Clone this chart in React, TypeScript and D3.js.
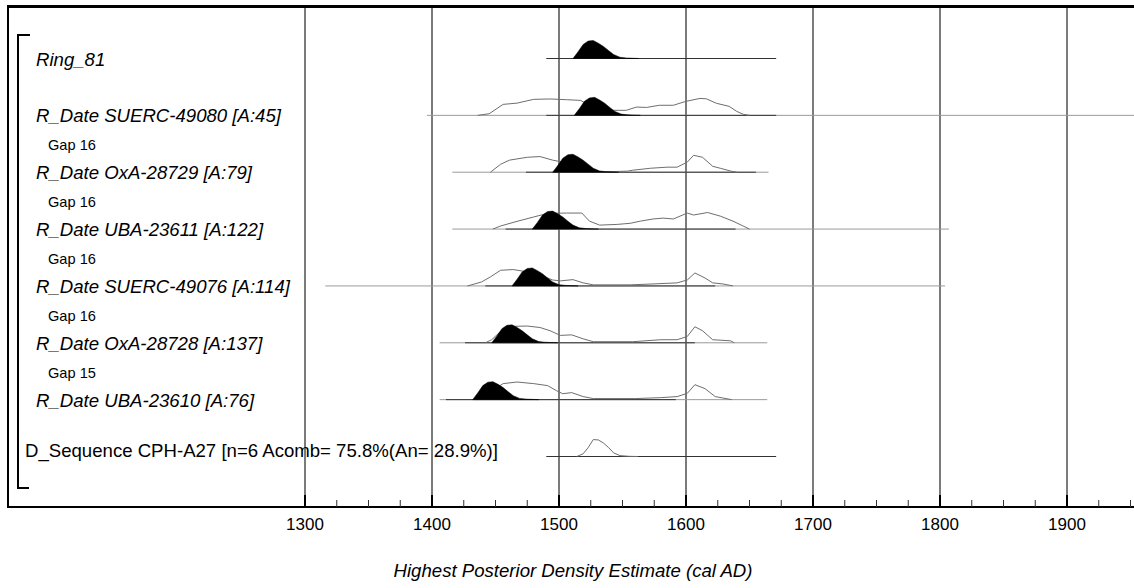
import React from "react";
import * as d3 from "d3";

// ---------- data ----------
const rowLabels = [
  "Ring_81",
  "R_Date SUERC-49080 [A:45]",
  "R_Date OxA-28729 [A:79]",
  "R_Date UBA-23611 [A:122]",
  "R_Date SUERC-49076 [A:114]",
  "R_Date OxA-28728 [A:137]",
  "R_Date UBA-23610 [A:76]",
  "D_Sequence CPH-A27 [n=6 Acomb= 75.8%(An= 28.9%)]",
];
const gapLabels = ["Gap 16", "Gap 16", "Gap 16", "Gap 16", "Gap 15"]; // before rows 2..6
const tickYears = [1300, 1400, 1500, 1600, 1700, 1800, 1900];
const minorTickYears = [
  1325, 1350, 1375, 1425, 1450, 1475, 1525, 1550, 1575, 1625, 1650, 1675,
  1725, 1750, 1775, 1825, 1850, 1875, 1925, 1950,
];
const axisTitle = "Highest Posterior Density Estimate (cal AD)";

// likelihood range (light line), per row; null = none
const likeRanges: ([number, number] | null)[] = [
  null,
  [1396, 1960],
  [1416, 1665],
  [1416, 1807],
  [1316, 1804],
  [1406, 1664],
  [1406, 1664],
  null,
];
// posterior range (dark line)
const postRanges: [number, number][] = [
  [1490, 1671],
  [1490, 1671],
  [1474, 1655],
  [1458, 1639],
  [1442, 1623],
  [1426, 1607],
  [1411, 1592],
  [1490, 1671],
];

const postDens = [0, 37, 78, 97, 100, 85, 67, 44, 22, 7, 3, 1, 0];
const postYearsRing81 = [1511, 1515, 1519, 1523, 1527, 1531, 1535, 1539, 1543, 1548, 1553, 1560, 1563];
const postYearsSUERC49080 = [1512, 1516, 1520, 1524, 1528, 1532, 1536, 1540, 1544, 1549, 1554, 1560, 1564];
const postYearsOxA28729 = [1495, 1499, 1503, 1507, 1511, 1515, 1519, 1523, 1527, 1532, 1537, 1544, 1547];
const postYearsUBA23611 = [1479, 1483, 1487, 1491, 1495, 1499, 1503, 1507, 1511, 1516, 1521, 1528, 1531];
const postYearsSUERC49076 = [1463, 1467, 1471, 1475, 1479, 1483, 1487, 1491, 1495, 1500, 1505, 1512, 1515];
const postYearsOxA28728 = [1447, 1451, 1455, 1459, 1463, 1467, 1471, 1475, 1479, 1484, 1489, 1496, 1499];
const postYearsUBA23610 = [1432, 1436, 1440, 1444, 1448, 1452, 1456, 1460, 1464, 1469, 1474, 1481, 1484];

const seqYears = [1514, 1519, 1523, 1527, 1531, 1535, 1539, 1543, 1548, 1555, 1562];
const seqDens = [0, 15, 50, 94, 92, 75, 50, 20, 5, 1, 0];

const likeYearsSUERC49080 = [1436, 1445, 1456, 1467, 1480, 1493, 1506, 1517, 1524, 1532, 1543, 1553, 1561, 1569, 1579, 1590, 1600, 1611, 1616, 1624, 1634, 1640, 1645, 1650];
const likeDensSUERC49080 = [0, 9, 61, 68, 89, 91, 87, 83, 55, 35, 28, 28, 46, 44, 56, 56, 78, 94, 92, 67, 50, 22, 6, 0];
const likeYearsOxA28729 = [1446, 1454, 1461, 1475, 1485, 1495, 1503, 1512, 1522, 1532, 1545, 1554, 1558, 1572, 1585, 1593, 1601, 1606, 1613, 1621, 1627, 1636, 1640];
const likeDensOxA28729 = [0, 44, 67, 83, 87, 67, 56, 35, 10, 4, 4, 6, 11, 22, 28, 28, 56, 94, 83, 33, 22, 5, 0];
const likeYearsUBA23611 = [1448, 1454, 1467, 1480, 1491, 1506, 1518, 1524, 1532, 1546, 1556, 1564, 1574, 1582, 1590, 1601, 1606, 1617, 1627, 1637, 1645, 1650];
const likeDensUBA23611 = [0, 17, 43, 67, 87, 89, 89, 44, 22, 26, 32, 44, 56, 61, 56, 89, 78, 92, 72, 44, 17, 0];
const likeYearsSUERC49076 = [1428, 1439, 1446, 1454, 1464, 1475, 1485, 1495, 1501, 1511, 1519, 1527, 1556, 1574, 1593, 1601, 1607, 1615, 1621, 1629, 1637];
const likeDensSUERC49076 = [0, 22, 50, 87, 91, 78, 61, 33, 28, 35, 17, 6, 6, 11, 17, 33, 72, 44, 17, 11, 0];
const likeYearsOxA28728 = [1442, 1447, 1454, 1461, 1475, 1485, 1493, 1501, 1510, 1519, 1527, 1558, 1580, 1593, 1601, 1607, 1613, 1621, 1635, 1638];
const likeDensOxA28728 = [0, 17, 63, 91, 93, 85, 67, 41, 44, 22, 6, 6, 17, 17, 35, 89, 67, 17, 11, 0];
const likeYearsUBA23610 = [1436, 1445, 1456, 1467, 1480, 1491, 1498, 1503, 1510, 1519, 1527, 1560, 1580, 1593, 1601, 1607, 1615, 1623, 1636];
const likeDensUBA23610 = [0, 40, 89, 98, 89, 78, 50, 33, 39, 17, 6, 6, 11, 17, 35, 83, 61, 17, 0];

const posteriors: (number[] | null)[] = [
  postYearsRing81, postYearsSUERC49080, postYearsOxA28729, postYearsUBA23611,
  postYearsSUERC49076, postYearsOxA28728, postYearsUBA23610, null,
];
const likelihoods: ([number[], number[]] | null)[] = [
  null,
  [likeYearsSUERC49080, likeDensSUERC49080],
  [likeYearsOxA28729, likeDensOxA28729],
  [likeYearsUBA23611, likeDensUBA23611],
  [likeYearsSUERC49076, likeDensSUERC49076],
  [likeYearsOxA28728, likeDensOxA28728],
  [likeYearsUBA23610, likeDensUBA23610],
  [seqYears, seqDens],
];

// ---------- chart ----------
const W = 1134;
const H = 588;
const FONT = "'Liberation Sans', Arial, sans-serif";

export default function App() {
  const x = d3.scaleLinear().domain([1300, 1900]).range([305, 1067]);
  const rowY = d3.scaleLinear().domain([0, 7]).range([58, 456]);
  const dens = d3.scaleLinear().domain([0, 100]).range([0, 18]);
  const axisY = 507;
  const frameTop = 6.5;

  const areaFor = (base: number) =>
    d3
      .area<[number, number]>()
      .x((d) => x(d[0]))
      .y0(base)
      .y1((d) => base - dens(d[1]));
  const lineFor = (base: number) =>
    d3
      .line<[number, number]>()
      .x((d) => x(d[0]))
      .y((d) => base - dens(d[1]));

  return (
    <svg
      width={W}
      height={H}
      style={{ position: "absolute", left: 0, top: 0, background: "#fff" }}
      fontFamily={FONT}
    >
      <rect x={0} y={0} width={W} height={H} fill="#fff" />

      {/* gridlines */}
      {tickYears.map((t) => (
        <line key={"g" + t} x1={x(t)} x2={x(t)} y1={frameTop} y2={axisY} stroke="#5a5a5a" strokeWidth={1.6} />
      ))}

      {/* labels */}
      {rowLabels.map((lab, i) => {
        const seq = i === 7;
        return (
          <text
            key={"l" + i}
            x={seq ? 25 : 36}
            y={rowY(i) + (seq ? 0.5 : 7.5)}
            fontSize={18.6}
            fontStyle={seq ? "normal" : "italic"}
            fill="#000"
          >
            {lab}
          </text>
        );
      })}
      {gapLabels.map((g, i) => (
        <text key={"gap" + i} x={48} y={rowY(i + 2) - 21.5} fontSize={14.6} fill="#000">
          {g}
        </text>
      ))}

      {/* rows */}
      {rowLabels.map((_, i) => {
        const base = rowY(i) + 0.5;
        const lr = likeRanges[i];
        const pr = postRanges[i];
        const lk = likelihoods[i];
        const py = posteriors[i];
        return (
          <g key={"r" + i}>
            {lr && (
              <line x1={x(lr[0])} x2={x(lr[1])} y1={base} y2={base} stroke="#9a9a9a" strokeWidth={1} />
            )}
            <line x1={x(pr[0])} x2={x(pr[1])} y1={base} y2={base} stroke="#333" strokeWidth={1} />
            {lk && (
              <path
                d={lineFor(base)(lk[0].map((y, k) => [y, lk[1][k]] as [number, number])) || ""}
                fill="none"
                stroke="#6e6e6e"
                strokeWidth={1}
              />
            )}
            {py && (
              <path
                d={areaFor(base)(py.map((y, k) => [y, postDens[k]] as [number, number])) || ""}
                fill="#000"
                stroke="#000"
                strokeWidth={0.5}
              />
            )}
          </g>
        );
      })}

      {/* bracket */}
      <path d="M30,35 H18 V488 H29" fill="none" stroke="#000" strokeWidth={2} />

      {/* frame */}
      <rect x={7} y={5} width={W - 7} height={3} fill="#000" />
      <rect x={7} y={5} width={2} height={axisY - 5 + 1} fill="#000" />
      <rect x={7} y={axisY - 1} width={W - 7} height={2} fill="#000" />

      {/* ticks */}
      {tickYears.map((t) => (
        <line key={"t" + t} x1={x(t)} x2={x(t)} y1={495} y2={axisY} stroke="#000" strokeWidth={2} />
      ))}
      {minorTickYears.map((t) => (
        <line key={"m" + t} x1={x(t)} x2={x(t)} y1={500} y2={axisY} stroke="#333" strokeWidth={1} />
      ))}
      {tickYears.map((t) => (
        <text key={"tl" + t} x={x(t)} y={530} fontSize={17} textAnchor="middle" fill="#000">
          {t}
        </text>
      ))}

      <text x={573} y={577} fontSize={18.6} fontStyle="italic" textAnchor="middle" fill="#000">
        {axisTitle}
      </text>
    </svg>
  );
}
